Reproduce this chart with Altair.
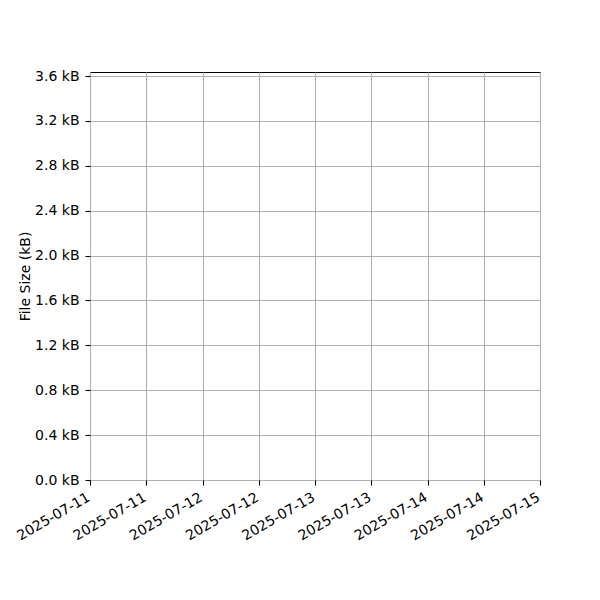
import altair as alt
import pandas as pd

# Data (the reference plot contains no visible data points)
dates = []
sizes_kb = []

x_start = (2025, 7, 11, 0)
x_end = (2025, 7, 15, 0)
x_tick_dates = [(2025, 7, 11, 0), (2025, 7, 11, 12), (2025, 7, 12, 0), (2025, 7, 12, 12),
                (2025, 7, 13, 0), (2025, 7, 13, 12), (2025, 7, 14, 0), (2025, 7, 14, 12),
                (2025, 7, 15, 0)]
y_ticks = [0.0, 0.4, 0.8, 1.2, 1.6, 2.0, 2.4, 2.8, 3.2, 3.6]
y_max = 3.636


def dt(t):
    return alt.DateTime(year=t[0], month=t[1], date=t[2], hours=t[3], utc=True)


df = pd.DataFrame({"date": pd.Series(dates, dtype="object"), "size": pd.Series(sizes_kb, dtype="float")})

font = "DejaVu Sans"

chart = alt.Chart(df).mark_line(color="#1f77b4").encode(
    x=alt.X(
        "date:T",
        scale=alt.Scale(type="utc", domain=[dt(x_start), dt(x_end)], nice=False),
        axis=alt.Axis(
            title=None,
            values=[dt(t) for t in x_tick_dates],
            labelExpr="utcFormat(datum.value, '%Y-%m-%d')",
            labelAngle=330,
            labelAlign="right",
            labelBaseline="top",
            labelPadding=5,
            labelOffset=-5,
            labelOverlap=False,
            labelBound=False,
            labelFlush=False,
        ),
    ),
    y=alt.Y(
        "size:Q",
        scale=alt.Scale(domain=[0, y_max], nice=False, zero=True),
        axis=alt.Axis(
            title="File Size (kB)",
            values=y_ticks,
            labelExpr="format(datum.value, '.1f') + ' kB'",
            labelPadding=6,
            labelOverlap=False,
            labelFlush=False,
            titlePadding=2,
        ),
    ),
).properties(
    width=450,
    height=408,
    autosize=alt.AutoSizeParams(type="none"),
    padding={"left": 82, "top": 64, "right": 50, "bottom": 100},
).configure_view(
    stroke="black", strokeWidth=1.0
).configure_axis(
    domain=False,
    grid=True,
    gridColor="#b0b0b0",
    gridWidth=1.1,
    tickColor="black",
    tickSize=5,
    tickWidth=1.1,
    labelColor="black",
    labelFont=font,
    labelFontSize=14,
    titleFont=font,
    titleFontSize=14,
    titleFontWeight="normal",
    titleColor="black",
)

chart.save("out.html", embed_options={"renderer": "svg", "actions": False})
